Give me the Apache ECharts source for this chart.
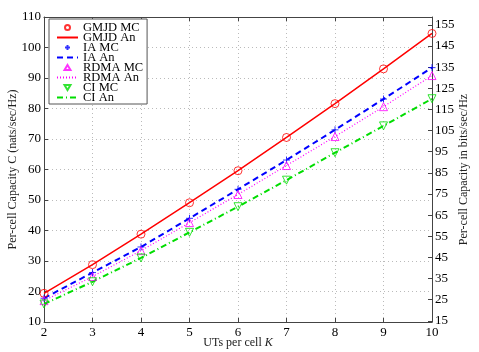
<!DOCTYPE html>
<html><head><meta charset="utf-8">
<script src="https://cdn.jsdelivr.net/npm/echarts@6/dist/echarts.min.js"></script>
<style>html,body{margin:0;padding:0;background:#fff}#c{width:479px;height:352px}</style>
</head><body><div id="c"></div>
<script>
var K = [2, 3, 4, 5, 6, 7, 8, 9, 10];
var gmjdMC = [19.4, 28.8, 38.8, 49.1, 59.6, 70.5, 81.6, 93.0, 104.6];
var gmjdAn = [19.4, 28.8, 38.8, 49.1, 59.6, 70.5, 81.6, 93.0, 104.6];
var iaMC = [17.8, 26.2, 34.6, 44.0, 53.5, 63.1, 73.0, 83.1, 93.4];
var iaAn = [17.8, 26.2, 34.6, 44.0, 53.5, 63.1, 73.0, 83.1, 93.4];
var rdmaMC = [17.0, 24.9, 33.4, 42.6, 51.8, 61.3, 70.8, 80.6, 90.8];
var rdmaAn = [17.0, 24.9, 33.4, 42.6, 51.8, 61.3, 70.8, 80.6, 90.8];
var ciMC = [15.9, 23.2, 31.0, 39.4, 47.8, 56.5, 65.5, 74.3, 83.2];
var ciAn = [15.9, 23.2, 31.0, 39.4, 47.8, 56.5, 65.5, 74.3, 83.2];
var leftTicks = [10, 20, 30, 40, 50, 60, 70, 80, 90, 100, 110];
var rightTicks = [15, 25, 35, 45, 55, 65, 75, 85, 95, 105, 115, 125, 135, 145, 155];
var xTicks = [2, 3, 4, 5, 6, 7, 8, 9, 10];

var NAT2BIT = 1 / Math.log(2);
function pairs(v) { return K.map(function (k, i) { return [k, v[i]]; }); }
var FONT = 'Liberation Serif';
var AX = '#444';

var chart = echarts.init(document.getElementById('c'), null, {renderer: 'canvas'});
function mc(name, data, color, symbol, rot, size) {
  return {
    name: name, type: 'scatter', data: pairs(data), symbol: symbol, symbolSize: size,
    symbolRotate: rot || 0,
    itemStyle: {color: 'rgba(255,255,255,0)', borderColor: color, borderWidth: 1},
    z: 5
  };
}
function an(name, data, color, type, width) {
  return {
    name: name, type: 'line', data: pairs(data), symbol: 'none', showSymbol: false,
    lineStyle: {color: color, type: type, width: width},
    itemStyle: {color: color},
    z: 3
  };
}
var plusPath = 'path://M0,5L10,5M5,0L5,10';
var legendIcons = {
  'GMJD MC': 'path://M0,0M21,9M13,4.5A2.5,2.5,0,1,1,8,4.5A2.5,2.5,0,1,1,13,4.5Z',
  'IA MC': 'path://M0,0M21,9M8,4.5L13,4.5M10.5,2L10.5,7',
  'RDMA MC': 'path://M0,0M21,9M10.5,2L13.5,7L7.5,7Z',
  'CI MC': 'path://M0,0M21,9M7.5,2L13.5,2L10.5,7Z'
};
var legendNames = ['GMJD MC', 'GMJD An', 'IA MC', 'IA An', 'RDMA MC', 'RDMA An', 'CI MC', 'CI An'];
chart.setOption({
  animation: false,
  backgroundColor: '#fff',
  textStyle: {fontFamily: FONT},
  grid: {left: 44, right: 47, top: 17, bottom: 30, outerBoundsMode: 'none', containLabel: false},
  legend: {
    orient: 'vertical', left: 49, top: 19,
    padding: [2, 4, 0, 7], itemGap: -3, itemWidth: 21, itemHeight: 9,
    backgroundColor: '#fff', borderColor: '#555', borderWidth: 1,
    textStyle: {fontFamily: FONT, fontSize: 12.5, color: '#000'},
    data: legendNames.map(function (n) {
      return legendIcons[n] ? {name: n, icon: legendIcons[n]} : {name: n, itemStyle: {opacity: 0}};
    })
  },
  xAxis: [{
    type: 'value', min: 2, max: 10, interval: 1,
    name: 'UTs per cell {i|K}', nameLocation: 'middle', nameGap: 15, nameMoveOverlap: false,
    nameTextStyle: {fontFamily: FONT, fontSize: 12, color: '#222', verticalAlign: 'top',
      rich: {i: {fontStyle: 'italic', fontFamily: FONT, fontSize: 12, color: '#222'}}},
    axisLine: {show: true, lineStyle: {color: AX}},
    axisTick: {show: true, inside: true, length: 4, lineStyle: {color: AX}},
    axisLabel: {fontFamily: FONT, fontSize: 13, color: '#000', margin: 4, customValues: xTicks},
    splitLine: {show: true, lineStyle: {color: '#bbb', type: [1, 3], width: 1}}
  }, {
    type: 'value', min: 2, max: 10, interval: 1, position: 'top',
    axisLine: {show: true, lineStyle: {color: AX}},
    axisTick: {show: true, inside: true, length: 4, lineStyle: {color: AX}},
    axisLabel: {show: false}, splitLine: {show: false}
  }],
  yAxis: [{
    type: 'value', min: 10, max: 110, interval: 10,
    name: 'Per-cell Capacity C (nats/sec/Hz)', nameLocation: 'middle', nameGap: 25, nameMoveOverlap: false,
    nameTextStyle: {fontFamily: FONT, fontSize: 12, color: '#222'},
    axisLine: {show: true, lineStyle: {color: AX}},
    axisTick: {show: true, inside: true, length: 4, lineStyle: {color: AX}},
    axisLabel: {fontFamily: FONT, fontSize: 13, color: '#000', margin: 3, customValues: leftTicks},
    splitLine: {show: true, lineStyle: {color: '#bbb', type: [1, 3], width: 1}}
  }, {
    type: 'value', min: 10 * NAT2BIT, max: 110 * NAT2BIT, position: 'right',
    name: 'Per-cell Capacity in bits/sec/Hz', nameLocation: 'middle', nameGap: 26, nameMoveOverlap: false,
    nameRotate: 90,
    nameTextStyle: {fontFamily: FONT, fontSize: 12, color: '#222'},
    axisLine: {show: true, lineStyle: {color: AX}},
    axisTick: {show: true, inside: true, length: 4, lineStyle: {color: AX}, customValues: rightTicks},
    axisLabel: {fontFamily: FONT, fontSize: 13, color: '#000', margin: 3, customValues: rightTicks},
    splitLine: {show: false}
  }],
  series: [
    mc('GMJD MC', gmjdMC, '#ff0000', 'circle', 0, 8),
    an('GMJD An', gmjdAn, '#ff0000', 'solid', 1.5),
    mc('IA MC', iaMC, '#0000ff', plusPath, 0, 7),
    an('IA An', iaAn, '#0000ff', [6, 4], 2),
    mc('RDMA MC', rdmaMC, '#ff00ff', 'triangle', 0, 8),
    an('RDMA An', rdmaAn, '#ff00ff', [1, 2], 1.2),
    mc('CI MC', ciMC, '#00dd00', 'triangle', 180, 8),
    an('CI An', ciAn, '#00dd00', [6, 3, 1, 3], 2)
  ]
});
</script></body></html>
